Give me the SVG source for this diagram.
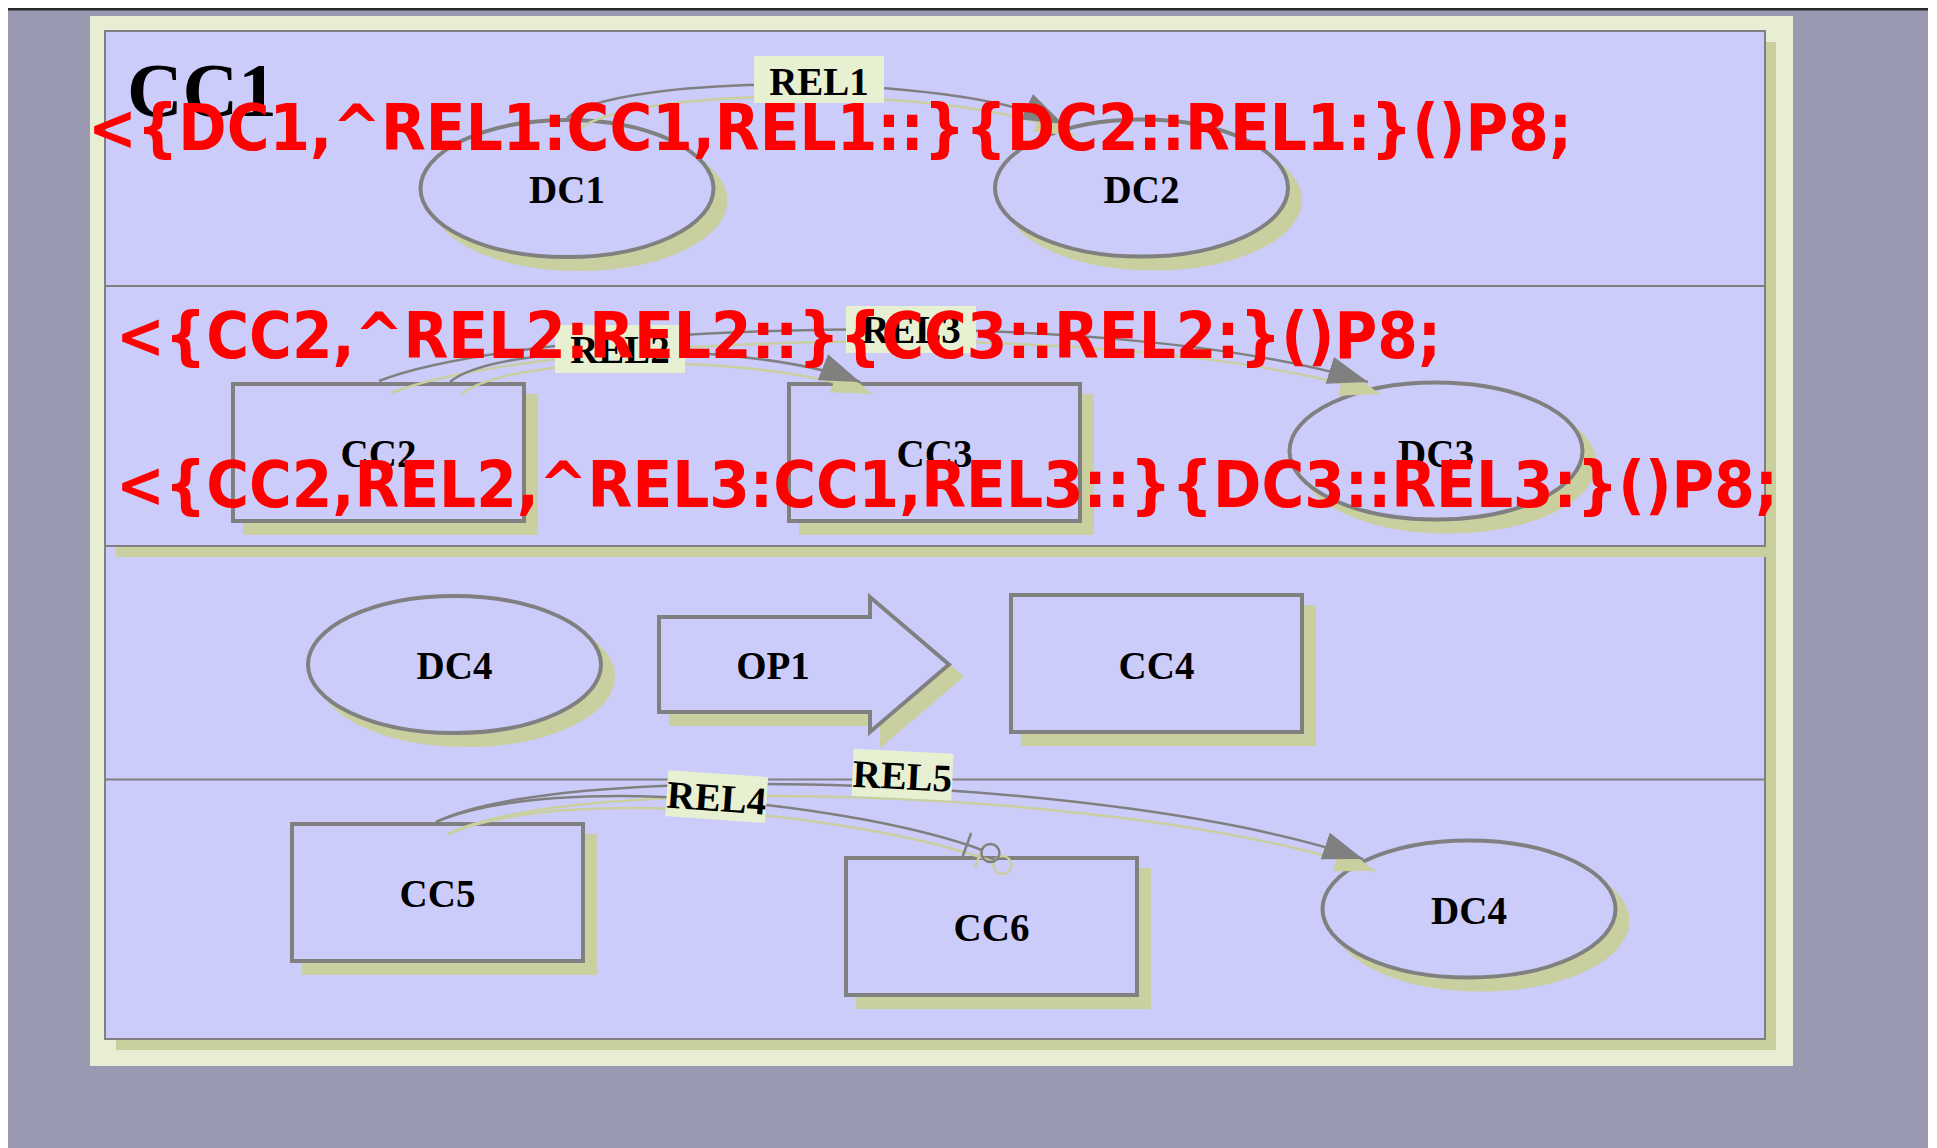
<svg xmlns="http://www.w3.org/2000/svg" width="1937" height="1148" viewBox="0 0 1937 1148">
  <defs>
    <style>
      .sh{fill:#c9cf9f;stroke:#c9cf9f;stroke-width:4}
      .node{fill:#ccccfb;stroke:#808080;stroke-width:4}
      .lbl{font-family:"Liberation Serif","Times New Roman",serif;font-size:39px;font-weight:bold;text-anchor:middle;fill:#000}
      .edge{fill:none;stroke:#808080;stroke-width:2.5}
      .edge-sh{fill:none;stroke:#c9cf9f;stroke-width:2.5}
      .tag{fill:#e8f0d2}
      .note{font-family:"DejaVu Sans Condensed","DejaVu Sans",sans-serif;font-stretch:condensed;font-weight:bold;font-size:64px;fill:#ff0000}
    </style>
    <marker id="arr" markerUnits="userSpaceOnUse" viewBox="0 0 42 30" markerWidth="42" markerHeight="30" refX="40" refY="14" orient="auto">
      <path d="M0,0 L40,14 L0,28 z" fill="#808080"/>
    </marker>
    <marker id="arr-sh" markerUnits="userSpaceOnUse" viewBox="0 0 42 30" markerWidth="42" markerHeight="30" refX="40" refY="14" orient="auto">
      <path d="M0,0 L40,14 L0,28 z" fill="#c9cf9f"/>
    </marker>
  </defs>

  <!-- page background -->
  <rect width="1937" height="1148" fill="#ffffff"/>
  <rect x="8" y="9" width="1920" height="1139" fill="#999ab1"/>
  <rect x="8" y="8" width="1920" height="2.5" fill="#2a2a2a"/>
  <rect x="90" y="16" width="1703" height="1050" fill="#e8eed3"/>

  <!-- container CC1 with its rows -->
  <g id="CC1">
    <rect x="116" y="42" width="1660" height="1008" fill="#c9cf9f"/>
    <rect x="105" y="31" width="1660" height="1008" fill="#ccccfb" stroke="#808080" stroke-width="2"/>
    <rect x="116" y="297" width="1660" height="260" fill="#c9cf9f"/>
    <rect x="105" y="286" width="1660" height="260" fill="#ccccfb" stroke="#808080" stroke-width="2"/>
    <line x1="105" y1="779.5" x2="1765" y2="779.5" stroke="#808080" stroke-width="2"/>
    <text x="127" y="116" font-family="Liberation Serif, Times New Roman, serif" font-size="77" font-weight="bold" fill="#000">CC1</text>
  </g>

  <!-- row 1 -->
  <g id="DC1">
    <ellipse class="sh" cx="579" cy="200.5" rx="146.5" ry="68.5"/>
    <ellipse class="node" cx="567" cy="188.5" rx="146.5" ry="68.5"/>
    <text class="lbl" x="567" y="203">DC1</text>
  </g>
  <g id="DC2">
    <ellipse class="sh" cx="1153.5" cy="200" rx="146.5" ry="68.5"/>
    <ellipse class="node" cx="1141.5" cy="188" rx="146.5" ry="68.5"/>
    <text class="lbl" x="1141.5" y="203">DC2</text>
  </g>

  <!-- row 2 -->
  <g id="CC2">
    <rect class="sh" x="245" y="396" width="291" height="137"/>
    <rect class="node" x="233" y="384" width="291" height="137"/>
    <text class="lbl" x="378.5" y="467">CC2</text>
  </g>
  <g id="CC3">
    <rect class="sh" x="801" y="396" width="291" height="137"/>
    <rect class="node" x="789" y="384" width="291" height="137"/>
    <text class="lbl" x="934.5" y="467">CC3</text>
  </g>
  <g id="DC3">
    <ellipse class="sh" cx="1448" cy="463" rx="146.5" ry="68.5"/>
    <ellipse class="node" cx="1436" cy="451" rx="146.5" ry="68.5"/>
    <text class="lbl" x="1436" y="466.5">DC3</text>
  </g>

  <!-- row 3 -->
  <g id="DC4-a">
    <ellipse class="sh" cx="466.5" cy="676.5" rx="146.5" ry="68.5"/>
    <ellipse class="node" cx="454.5" cy="664.5" rx="146.5" ry="68.5"/>
    <text class="lbl" x="454.5" y="679">DC4</text>
  </g>
  <g id="OP1">
    <polygon class="sh" transform="translate(12,12)" points="659,617 870,617 870,597 949,664.5 870,732 870,712 659,712"/>
    <polygon class="node" points="659,617 870,617 870,597 949,664.5 870,732 870,712 659,712"/>
    <text class="lbl" x="773" y="679">OP1</text>
  </g>
  <g id="CC4">
    <rect class="sh" x="1023" y="607" width="291" height="137"/>
    <rect class="node" x="1011" y="595" width="291" height="137"/>
    <text class="lbl" x="1156.5" y="679">CC4</text>
  </g>

  <!-- row 4 -->
  <g id="CC5">
    <rect class="sh" x="304" y="836" width="291" height="137"/>
    <rect class="node" x="292" y="824" width="291" height="137"/>
    <text class="lbl" x="437.5" y="907">CC5</text>
  </g>
  <g id="CC6">
    <rect class="sh" x="858" y="870" width="291" height="137"/>
    <rect class="node" x="846" y="858" width="291" height="137"/>
    <text class="lbl" x="991.5" y="941">CC6</text>
  </g>
  <g id="DC4-b">
    <ellipse class="sh" cx="1481" cy="921" rx="146.5" ry="68.5"/>
    <ellipse class="node" cx="1469" cy="909" rx="146.5" ry="68.5"/>
    <text class="lbl" x="1469" y="924">DC4</text>
  </g>

  <!-- relations -->
  <g id="connectors">
    <g transform="translate(12,12)">
      <path class="edge-sh" d="M567,118 C610,75 950,70 1063,124" marker-end="url(#arr-sh)"/>
      <path class="edge-sh" d="M450,382 C500,340 760,342 860,382" marker-end="url(#arr-sh)"/>
      <path class="edge-sh" d="M379,381 C520,325 1100,300 1368,382" marker-end="url(#arr-sh)"/>
      <path class="edge-sh" d="M436,822 C560,770 860,805 982,850"/>
      <line class="edge-sh" x1="971.2" y1="833" x2="962.8" y2="856"/>
      <circle class="edge-sh" cx="990.4" cy="853.1" r="9"/>
      <path class="edge-sh" d="M436,822 C560,760 1120,775 1363,859" marker-end="url(#arr-sh)"/>
    </g>
    <g id="REL1">
      <path class="edge" d="M567,118 C610,75 950,70 1063,124" marker-end="url(#arr)"/>
      <rect class="tag" x="754" y="56" width="130" height="47"/>
      <text class="lbl" x="819" y="95">REL1</text>
    </g>
    <g id="REL2">
      <path class="edge" d="M450,382 C500,340 760,342 860,382" marker-end="url(#arr)"/>
    </g>
    <g id="REL3">
      <path class="edge" d="M379,381 C520,325 1100,300 1368,382" marker-end="url(#arr)"/>
    </g>
    <rect class="tag" x="555" y="325" width="130" height="48"/>
    <text class="lbl" x="620" y="362.5">REL2</text>
    <rect class="tag" x="846" y="306" width="130" height="47"/>
    <text class="lbl" x="911" y="343">REL3</text>
    <g id="REL4">
      <path class="edge" d="M436,822 C560,770 860,805 982,850"/>
      <line class="edge" x1="971.2" y1="833" x2="962.8" y2="856"/>
      <circle class="edge" cx="990.4" cy="853.1" r="9"/>
    </g>
    <g id="REL5">
      <path class="edge" d="M436,822 C560,760 1120,775 1363,859" marker-end="url(#arr)"/>
    </g>
    <g transform="translate(716.7,796.6) rotate(4)">
      <rect class="tag" x="-50" y="-23" width="100" height="46"/>
      <text class="lbl" x="0" y="14.5" font-size="41">REL4</text>
    </g>
    <g transform="translate(902.5,774.7) rotate(2.8)">
      <rect class="tag" x="-50" y="-23.5" width="100" height="47"/>
      <text class="lbl" x="0" y="14.5" font-size="41">REL5</text>
    </g>
  </g>

  <!-- constraint annotations -->
  <g id="annotations">
    <text class="note" x="88" y="150" textLength="1484" lengthAdjust="spacingAndGlyphs">&lt;{DC1,^REL1:CC1,REL1::}{DC2::REL1:}()P8;</text>
    <text class="note" x="116" y="358" textLength="1325" lengthAdjust="spacingAndGlyphs">&lt;{CC2,^REL2:REL2::}{CC3::REL2:}()P8;</text>
    <text class="note" x="116" y="507" textLength="1662" lengthAdjust="spacingAndGlyphs">&lt;{CC2,REL2,^REL3:CC1,REL3::}{DC3::REL3:}()P8;</text>
  </g>
</svg>
